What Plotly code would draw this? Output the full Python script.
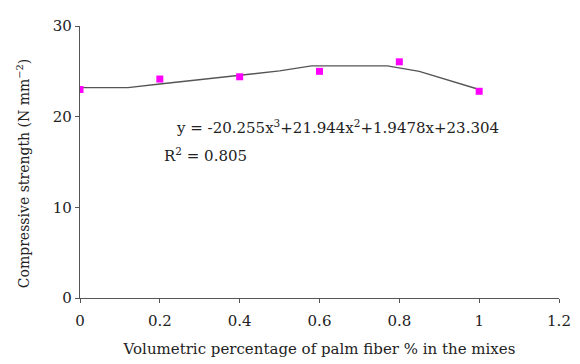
import plotly.graph_objects as go

fiber_pct = [0, 0.2, 0.4, 0.6, 0.8, 1.0]
strength = [23.0, 24.15, 24.4, 25.0, 26.05, 22.8]

trend_x = [0, 0.05, 0.12, 0.2, 0.3, 0.4, 0.5, 0.58, 0.65, 0.72, 0.77, 0.85, 0.92, 1.0]
trend_y = [23.2, 23.2, 23.2, 23.6, 24.1, 24.6, 25.05, 25.6, 25.62, 25.62, 25.6, 25.0, 24.1, 23.0]

x_ticks = [0, 0.2, 0.4, 0.6, 0.8, 1, 1.2]
x_labels = ["0", "0.2", "0.4", "0.6", "0.8", "1", "1.2"]
y_ticks = [0, 10, 20, 30]

font = "DejaVu Serif"

fig = go.Figure()
fig.add_trace(go.Scatter(x=trend_x, y=trend_y, mode="lines",
                         line=dict(color="#555555", width=1.4), hoverinfo="skip"))
fig.add_trace(go.Scatter(x=fiber_pct, y=strength, mode="markers",
                         marker=dict(symbol="square", size=7, color="#FF00FF")))

fig.add_annotation(xref="x", yref="y", x=0.235, y=18.85, xanchor="left", yanchor="middle",
                   text="y = -20.255x<sup>3</sup>+21.944x<sup>2</sup>+1.9478x+23.304",
                   showarrow=False, font=dict(family=font, size=15, color="#222222"))
fig.add_annotation(xref="x", yref="y", x=0.205, y=15.75, xanchor="left", yanchor="middle",
                   text="R<sup>2</sup> = 0.805",
                   showarrow=False, font=dict(family=font, size=15, color="#222222"))
fig.add_annotation(xref="paper", yref="paper", x=-0.12, y=0.457, xanchor="center", yanchor="middle",
                   text="Compressive strength (N mm<sup>−2</sup>)", textangle=-90,
                   showarrow=False, font=dict(family=font, size=14, color="#222222"))

fig.update_layout(
    width=572, height=356,
    margin=dict(l=72, r=16, t=9, b=65),
    paper_bgcolor="white", plot_bgcolor="white",
    showlegend=False,
    font=dict(family=font, size=15, color="#222222"),
    xaxis=dict(range=[0, 1.2], tickvals=x_ticks, ticktext=x_labels,
               showgrid=False, zeroline=False, showline=True, linecolor="#555555", linewidth=1.2,
               ticks="outside", ticklen=4, tickcolor="#555555", ticklabelstandoff=5,
               title=dict(text="Volumetric percentage of palm fiber % in the mixes",
                          font=dict(family=font, size=15), standoff=14)),
    yaxis=dict(range=[0, 30], tickvals=y_ticks,
               showgrid=False, zeroline=False, showline=True, linecolor="#555555", linewidth=1.2,
               ticks="outside", ticklen=4, tickcolor="#555555"),
)

fig.write_html("out.html")
